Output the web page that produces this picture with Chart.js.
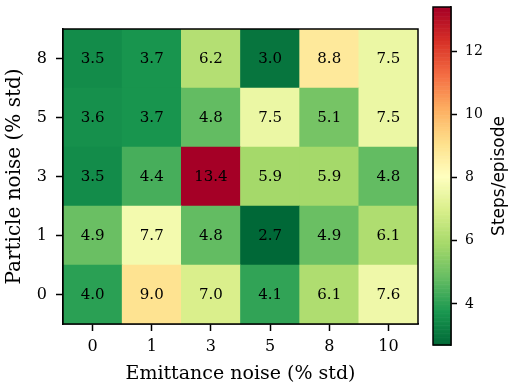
<!DOCTYPE html>
<html>
<head>
<meta charset="utf-8">
<script src="https://cdn.jsdelivr.net/npm/chart.js@4/dist/chart.umd.min.js"></script>
<style>
  html, body { margin: 0; padding: 0; background: #fff; }
  #wrap { position: relative; width: 509px; height: 388px; }
  canvas { position: absolute; left: 0; top: 0; }
</style>
</head>
<body>
<div id="wrap">
  <canvas id="heat" width="509" height="388"></canvas>
  <canvas id="cbar" width="509" height="388"></canvas>
</div>
<script>
// Axis categories
const emittanceNoise = ['0', '1', '3', '5', '8', '10'];   // % std, x axis
const particleNoise  = ['0', '1', '3', '5', '8'];         // % std, y axis (bottom to top)

// Mean steps per episode, one array per particle-noise level (columns follow emittanceNoise)
const stepsP0 = [4.0, 9.0, 7.0, 4.1, 6.1, 7.6];
const stepsP1 = [4.9, 7.7, 4.8, 2.7, 4.9, 6.1];
const stepsP3 = [3.5, 4.4, 13.4, 5.9, 5.9, 4.8];
const stepsP5 = [3.6, 3.7, 4.8, 7.5, 5.1, 7.5];
const stepsP8 = [3.5, 3.7, 6.2, 3.0, 8.8, 7.5];
const stepRows = [stepsP0, stepsP1, stepsP3, stepsP5, stepsP8];

// Colour bar ticks
const colorbarTicks = [4, 6, 8, 10, 12];

const allSteps = stepRows.flat();
const vmin = Math.min(...allSteps);
const vmax = Math.max(...allSteps);

// RdYlGn anchor colours (ColorBrewer), used reversed
const RDYLGN = [
  [165, 0, 38], [215, 48, 39], [244, 109, 67], [253, 174, 97], [254, 224, 139],
  [255, 255, 191], [217, 239, 139], [166, 217, 106], [102, 189, 99], [26, 152, 80], [0, 104, 55]
];
function rgbStr(c) { return `rgb(${c[0]},${c[1]},${c[2]})`; }
function rdylgn(t) {
  t = Math.max(0, Math.min(1, t));
  const p = t * (RDYLGN.length - 1);
  const i = Math.min(Math.floor(p), RDYLGN.length - 2);
  const f = p - i;
  const a = RDYLGN[i], b = RDYLGN[i + 1];
  return rgbStr(a.map((v, k) => Math.round(v + (b[k] - v) * f)));
}
function colorFor(v) { return rdylgn(1 - (v - vmin) / (vmax - vmin)); }

const SERIF = "'DejaVu Serif', serif";
const SANS = "'DejaVu Sans', sans-serif";

// Each particle-noise row becomes a dataset of floating bars spanning [row-0.5, row+0.5]
const datasets = stepRows.map((row, r) => ({
  label: 'Particle noise ' + particleNoise[r],
  data: row.map(() => [r - 0.5, r + 0.5]),
  steps: row,
  backgroundColor: row.map(colorFor),
  borderWidth: 0,
  grouped: false,
  barPercentage: 1,
  categoryPercentage: 1
}));

const cellLabels = {
  id: 'cellLabels',
  afterDatasetsDraw(chart) {
    const ctx = chart.ctx;
    ctx.save();
    ctx.font = `15px ${SERIF}`;
    ctx.fillStyle = '#000';
    ctx.textAlign = 'center';
    ctx.textBaseline = 'middle';
    chart.data.datasets.forEach((ds, di) => {
      chart.getDatasetMeta(di).data.forEach((el, i) => {
        const c = el.getCenterPoint();
        ctx.fillText(ds.steps[i].toFixed(1), c.x, c.y + 1);
      });
    });
    ctx.restore();
  }
};

const frame = {
  id: 'frame',
  afterDraw(chart) {
    const a = chart.chartArea, ctx = chart.ctx;
    ctx.save();
    ctx.strokeStyle = '#000';
    ctx.lineWidth = 1.5;
    ctx.strokeRect(a.left, a.top, a.right - a.left, a.bottom - a.top);
    ctx.restore();
  }
};

new Chart(document.getElementById('heat'), {
  type: 'bar',
  data: { labels: emittanceNoise, datasets },
  options: {
    responsive: false,
    animation: false,
    layout: { padding: { top: 29, right: 91, left: 0, bottom: 0 } },
    plugins: { legend: { display: false }, tooltip: { enabled: false } },
    scales: {
      x: {
        type: 'category',
        offset: true,
        afterFit(s) { s.height = 64; },
        grid: { drawOnChartArea: false, drawTicks: true, tickLength: 7, tickColor: '#000', tickWidth: 1.5, offset: false },
        border: { display: true, color: '#000', width: 1.5 },
        ticks: { color: '#000', font: { family: SERIF, size: 16 }, padding: 6, maxRotation: 0 },
        title: { display: true, text: 'Emittance noise (% std)', color: '#000',
                 font: { family: SERIF, size: 19 }, padding: { top: 0, bottom: 3 } }
      },
      y: {
        type: 'linear',
        min: -0.5,
        max: particleNoise.length - 0.5,
        afterFit(s) { s.width = 63; s.paddingTop = 0; s.paddingBottom = 0; },
        afterBuildTicks(s) { s.ticks = particleNoise.map((_, i) => ({ value: i })); },
        grid: { drawOnChartArea: false, drawTicks: true, tickLength: 7, tickColor: '#000', tickWidth: 1.5 },
        border: { display: true, color: '#000', width: 1.5 },
        ticks: { color: '#000', font: { family: SERIF, size: 16 }, padding: 9,
                 callback: (v) => particleNoise[v] },
        title: { display: true, text: 'Particle noise (% std)', color: '#000',
                 font: { family: SERIF, size: 20 }, padding: { top: 3, bottom: 0 } }
      }
    }
  },
  plugins: [cellLabels, frame]
});

// Colour bar: a floating bar spanning the value range; its body is painted as
// thin solid colour bands placed with the bar's own value scale
const CBAR_STEPS = 256;
const cbarFill = {
  id: 'cbarFill',
  afterDatasetsDraw(chart) {
    const el = chart.getDatasetMeta(0).data[0];
    if (!el) return;
    const { x, width } = el.getProps(['x', 'width'], true);
    const ys = chart.scales.y;
    const ctx = chart.ctx;
    ctx.save();
    for (let k = 0; k < CBAR_STEPS; k++) {
      const a = vmin + (vmax - vmin) * k / CBAR_STEPS;
      const b = vmin + (vmax - vmin) * (k + 1) / CBAR_STEPS;
      const pa = ys.getPixelForValue(a);
      const pb = ys.getPixelForValue(b);
      ctx.fillStyle = colorFor((a + b) / 2);
      ctx.fillRect(x - width / 2, pb, width, pa - pb + 0.6);
    }
    ctx.restore();
  }
};

const cbarLabel = {
  id: 'cbarLabel',
  afterDraw(chart) {
    const ctx = chart.ctx, a = chart.chartArea;
    ctx.save();
    ctx.font = `17px ${SANS}`;
    ctx.fillStyle = '#000';
    ctx.textAlign = 'center';
    ctx.textBaseline = 'middle';
    ctx.translate(500, (a.top + a.bottom) / 2);
    ctx.rotate(-Math.PI / 2);
    ctx.fillText('Steps/episode', 0, 0);
    ctx.restore();
  }
};

new Chart(document.getElementById('cbar'), {
  type: 'bar',
  data: {
    labels: ['steps'],
    datasets: [{
      data: [[vmin, vmax]],
      backgroundColor: 'rgba(0,0,0,0)',
      borderWidth: 0,
      barPercentage: 1,
      categoryPercentage: 1
    }]
  },
  options: {
    responsive: false,
    animation: false,
    layout: { padding: { top: 7, right: 0, left: 433, bottom: 43 } },
    plugins: { legend: { display: false }, tooltip: { enabled: false } },
    scales: {
      x: { display: false, offset: true },
      y: {
        position: 'right',
        min: vmin,
        max: vmax,
        afterFit(s) { s.width = 58; s.paddingTop = 0; s.paddingBottom = 0; },
        afterBuildTicks(s) { s.ticks = colorbarTicks.map(v => ({ value: v })); },
        grid: { drawOnChartArea: false, drawTicks: true, tickLength: 6, tickColor: '#000', tickWidth: 1.5 },
        border: { display: true, color: '#000', width: 1.5 },
        ticks: { color: '#000', font: { family: SERIF, size: 14 }, padding: 8 }
      }
    }
  },
  plugins: [cbarFill, frame, cbarLabel]
});
</script>
</body>
</html>
